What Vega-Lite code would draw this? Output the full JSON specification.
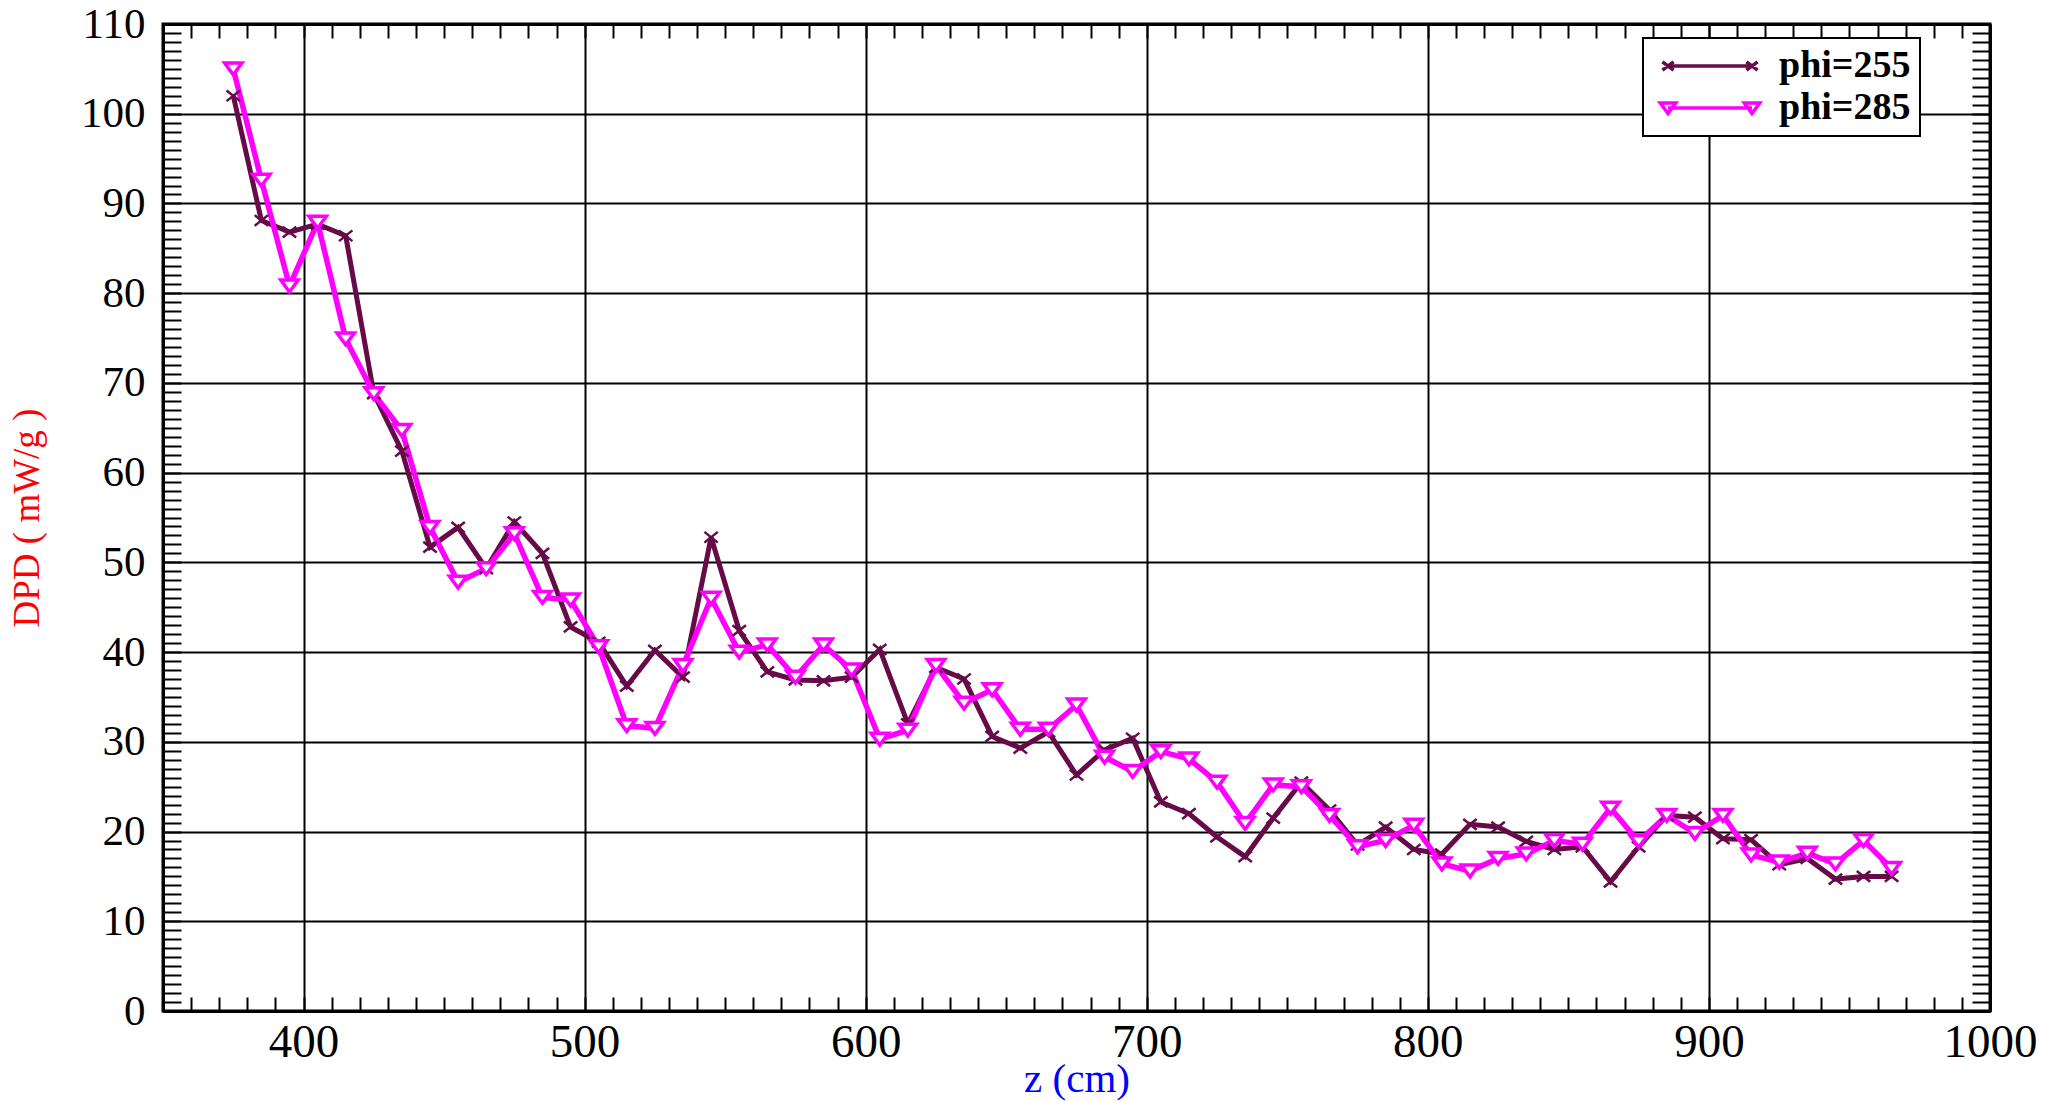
{
  "$schema": "https://vega.github.io/schema/vega-lite/v6.json",
  "width": 1827,
  "height": 987,
  "autosize": "none",
  "padding": {"left": 163, "top": 24, "right": 60, "bottom": 90},
  "background": "white",
  "config": {
    "view": {"stroke": "black", "strokeWidth": 3},
    "font": "Liberation Serif",
    "axis": {"domainColor": "black", "domainWidth": 3, "tickColor": "black", "tickWidth": 2, "labelColor": "black", "labelFont": "Liberation Serif", "titleFont": "Liberation Serif", "titleFontWeight": "normal", "labelOverlap": false, "labelFlush": false, "format": "d"}
  },
  "data": {
    "values": [
      {"z": 375, "dpd": 102.0, "series": "phi=255"},
      {"z": 385, "dpd": 88.1, "series": "phi=255"},
      {"z": 395, "dpd": 86.8, "series": "phi=255"},
      {"z": 405, "dpd": 87.7, "series": "phi=255"},
      {"z": 415, "dpd": 86.4, "series": "phi=255"},
      {"z": 425, "dpd": 68.8, "series": "phi=255"},
      {"z": 435, "dpd": 62.4, "series": "phi=255"},
      {"z": 445, "dpd": 51.7, "series": "phi=255"},
      {"z": 455, "dpd": 53.9, "series": "phi=255"},
      {"z": 465, "dpd": 49.3, "series": "phi=255"},
      {"z": 475, "dpd": 54.5, "series": "phi=255"},
      {"z": 485, "dpd": 51.0, "series": "phi=255"},
      {"z": 495, "dpd": 42.8, "series": "phi=255"},
      {"z": 505, "dpd": 41.1, "series": "phi=255"},
      {"z": 515, "dpd": 36.2, "series": "phi=255"},
      {"z": 525, "dpd": 40.2, "series": "phi=255"},
      {"z": 535, "dpd": 37.2, "series": "phi=255"},
      {"z": 545, "dpd": 52.8, "series": "phi=255"},
      {"z": 555, "dpd": 42.4, "series": "phi=255"},
      {"z": 565, "dpd": 37.8, "series": "phi=255"},
      {"z": 575, "dpd": 36.9, "series": "phi=255"},
      {"z": 585, "dpd": 36.8, "series": "phi=255"},
      {"z": 595, "dpd": 37.2, "series": "phi=255"},
      {"z": 605, "dpd": 40.3, "series": "phi=255"},
      {"z": 615, "dpd": 32.0, "series": "phi=255"},
      {"z": 625, "dpd": 38.3, "series": "phi=255"},
      {"z": 635, "dpd": 37.0, "series": "phi=255"},
      {"z": 645, "dpd": 30.6, "series": "phi=255"},
      {"z": 655, "dpd": 29.3, "series": "phi=255"},
      {"z": 665, "dpd": 31.1, "series": "phi=255"},
      {"z": 675, "dpd": 26.3, "series": "phi=255"},
      {"z": 685, "dpd": 29.1, "series": "phi=255"},
      {"z": 695, "dpd": 30.4, "series": "phi=255"},
      {"z": 705, "dpd": 23.3, "series": "phi=255"},
      {"z": 715, "dpd": 22.0, "series": "phi=255"},
      {"z": 725, "dpd": 19.4, "series": "phi=255"},
      {"z": 735, "dpd": 17.2, "series": "phi=255"},
      {"z": 745, "dpd": 21.5, "series": "phi=255"},
      {"z": 755, "dpd": 25.5, "series": "phi=255"},
      {"z": 765, "dpd": 22.4, "series": "phi=255"},
      {"z": 775, "dpd": 18.5, "series": "phi=255"},
      {"z": 785, "dpd": 20.5, "series": "phi=255"},
      {"z": 795, "dpd": 18.0, "series": "phi=255"},
      {"z": 805, "dpd": 17.5, "series": "phi=255"},
      {"z": 815, "dpd": 20.8, "series": "phi=255"},
      {"z": 825, "dpd": 20.5, "series": "phi=255"},
      {"z": 835, "dpd": 18.9, "series": "phi=255"},
      {"z": 845, "dpd": 18.0, "series": "phi=255"},
      {"z": 855, "dpd": 18.3, "series": "phi=255"},
      {"z": 865, "dpd": 14.4, "series": "phi=255"},
      {"z": 875, "dpd": 18.3, "series": "phi=255"},
      {"z": 885, "dpd": 21.8, "series": "phi=255"},
      {"z": 895, "dpd": 21.6, "series": "phi=255"},
      {"z": 905, "dpd": 19.2, "series": "phi=255"},
      {"z": 915, "dpd": 19.1, "series": "phi=255"},
      {"z": 925, "dpd": 16.3, "series": "phi=255"},
      {"z": 935, "dpd": 17.0, "series": "phi=255"},
      {"z": 945, "dpd": 14.7, "series": "phi=255"},
      {"z": 955, "dpd": 15.0, "series": "phi=255"},
      {"z": 965, "dpd": 15.0, "series": "phi=255"},
      {"z": 375, "dpd": 105.0, "series": "phi=285"},
      {"z": 385, "dpd": 92.6, "series": "phi=285"},
      {"z": 395, "dpd": 80.8, "series": "phi=285"},
      {"z": 405, "dpd": 87.9, "series": "phi=285"},
      {"z": 415, "dpd": 74.9, "series": "phi=285"},
      {"z": 425, "dpd": 68.8, "series": "phi=285"},
      {"z": 435, "dpd": 64.7, "series": "phi=285"},
      {"z": 445, "dpd": 53.9, "series": "phi=285"},
      {"z": 455, "dpd": 47.8, "series": "phi=285"},
      {"z": 465, "dpd": 49.3, "series": "phi=285"},
      {"z": 475, "dpd": 53.2, "series": "phi=285"},
      {"z": 485, "dpd": 46.1, "series": "phi=285"},
      {"z": 495, "dpd": 45.8, "series": "phi=285"},
      {"z": 505, "dpd": 40.6, "series": "phi=285"},
      {"z": 515, "dpd": 31.8, "series": "phi=285"},
      {"z": 525, "dpd": 31.5, "series": "phi=285"},
      {"z": 535, "dpd": 38.5, "series": "phi=285"},
      {"z": 545, "dpd": 46.0, "series": "phi=285"},
      {"z": 555, "dpd": 40.0, "series": "phi=285"},
      {"z": 565, "dpd": 40.8, "series": "phi=285"},
      {"z": 575, "dpd": 37.2, "series": "phi=285"},
      {"z": 585, "dpd": 40.8, "series": "phi=285"},
      {"z": 595, "dpd": 38.0, "series": "phi=285"},
      {"z": 605, "dpd": 30.3, "series": "phi=285"},
      {"z": 615, "dpd": 31.3, "series": "phi=285"},
      {"z": 625, "dpd": 38.5, "series": "phi=285"},
      {"z": 635, "dpd": 34.3, "series": "phi=285"},
      {"z": 645, "dpd": 35.8, "series": "phi=285"},
      {"z": 655, "dpd": 31.4, "series": "phi=285"},
      {"z": 665, "dpd": 31.4, "series": "phi=285"},
      {"z": 675, "dpd": 34.1, "series": "phi=285"},
      {"z": 685, "dpd": 28.3, "series": "phi=285"},
      {"z": 695, "dpd": 26.7, "series": "phi=285"},
      {"z": 705, "dpd": 28.9, "series": "phi=285"},
      {"z": 715, "dpd": 28.1, "series": "phi=285"},
      {"z": 725, "dpd": 25.5, "series": "phi=285"},
      {"z": 735, "dpd": 20.9, "series": "phi=285"},
      {"z": 745, "dpd": 25.2, "series": "phi=285"},
      {"z": 755, "dpd": 25.0, "series": "phi=285"},
      {"z": 765, "dpd": 21.8, "series": "phi=285"},
      {"z": 775, "dpd": 18.3, "series": "phi=285"},
      {"z": 785, "dpd": 19.0, "series": "phi=285"},
      {"z": 795, "dpd": 20.7, "series": "phi=285"},
      {"z": 805, "dpd": 16.4, "series": "phi=285"},
      {"z": 815, "dpd": 15.6, "series": "phi=285"},
      {"z": 825, "dpd": 17.0, "series": "phi=285"},
      {"z": 835, "dpd": 17.5, "series": "phi=285"},
      {"z": 845, "dpd": 19.0, "series": "phi=285"},
      {"z": 855, "dpd": 18.6, "series": "phi=285"},
      {"z": 865, "dpd": 22.6, "series": "phi=285"},
      {"z": 875, "dpd": 18.9, "series": "phi=285"},
      {"z": 885, "dpd": 21.8, "series": "phi=285"},
      {"z": 895, "dpd": 19.8, "series": "phi=285"},
      {"z": 905, "dpd": 21.8, "series": "phi=285"},
      {"z": 915, "dpd": 17.4, "series": "phi=285"},
      {"z": 925, "dpd": 16.6, "series": "phi=285"},
      {"z": 935, "dpd": 17.6, "series": "phi=285"},
      {"z": 945, "dpd": 16.4, "series": "phi=285"},
      {"z": 955, "dpd": 19.0, "series": "phi=285"},
      {"z": 965, "dpd": 15.9, "series": "phi=285"}
    ]
  },
  "layer": [
    {
      "mark": {"type": "line"},
      "encoding": {
        "x": {
          "field": "z", "type": "quantitative",
          "scale": {"domain": [350, 1000], "nice": false, "zero": false},
          "axis": {
            "orient": "bottom",
            "values": [350,360,370,380,390,400,410,420,430,440,450,460,470,480,490,500,510,520,530,540,550,560,570,580,590,600,610,620,630,640,650,660,670,680,690,700,710,720,730,740,750,760,770,780,790,800,810,820,830,840,850,860,870,880,890,900,910,920,930,940,950,960,970,980,990,1000],
            "tickSize": -14,
            "labelExpr": "datum.value % 100 === 0 ? datum.label : ''",
            "labelFontSize": 47,
            "labelPadding": 22,
            "grid": true, "gridColor": "black", "gridWidth": 2,
            "gridOpacity": {"condition": {"test": "datum.value % 100 === 0", "value": 1}, "value": 0},
            "title": "z (cm)", "titleColor": "blue", "titleFontSize": 41, "titlePadding": -6
          }
        },
        "y": {
          "field": "dpd", "type": "quantitative",
          "scale": {"domain": [0, 110], "nice": false, "zero": true},
          "axis": {
            "orient": "left",
            "values": [0,1,2,3,4,5,6,7,8,9,10,11,12,13,14,15,16,17,18,19,20,21,22,23,24,25,26,27,28,29,30,31,32,33,34,35,36,37,38,39,40,41,42,43,44,45,46,47,48,49,50,51,52,53,54,55,56,57,58,59,60,61,62,63,64,65,66,67,68,69,70,71,72,73,74,75,76,77,78,79,80,81,82,83,84,85,86,87,88,89,90,91,92,93,94,95,96,97,98,99,100,101,102,103,104,105,106,107,108,109,110],
            "tickSize": -18,
            "labelExpr": "datum.value % 10 === 0 ? datum.label : ''",
            "labelFontSize": 43,
            "labelPadding": 36,
            "grid": true, "gridColor": "black", "gridWidth": 2,
            "gridOpacity": {"condition": {"test": "datum.value % 10 === 0", "value": 1}, "value": 0},
            "title": "DPD ( mW/g )", "titleColor": "red", "titleFontSize": 37, "titlePadding": 34
          }
        },
        "color": {
          "field": "series", "type": "nominal",
          "scale": {"domain": ["phi=255", "phi=285"], "range": ["#660A48", "#FF00FF"]},
          "legend": {
            "title": null,
            "orient": "none", "legendX": 1480, "legendY": 14,
            "padding": 9,
            "strokeColor": "black", "fillColor": "white",
            "labelFont": "Liberation Serif", "labelFontWeight": "bold", "labelFontSize": 38, "labelColor": "black",
            "symbolSize": 784, "symbolStrokeWidth": 3.5, "symbolOffset": 39, "labelOffset": 50, "rowPadding": 4,
            "encode": {
              "legend": {"update": {"strokeWidth": {"value": 2}}},
              "symbols": {"update": {
                "shape": [
                  {"test": "datum.value === 'phi=255'", "value": "M-3,0H3M-3.4,-0.3L-2.6,0.3M-3.4,0.3L-2.6,-0.3M2.6,-0.3L3.4,0.3M2.6,0.3L3.4,-0.3"},
                  {"value": "M-3,0H3M-3.55,-0.35L-2.45,-0.35L-3,0.4ZM2.45,-0.35L3.55,-0.35L3,0.4Z"}
                ],
                "fill": {"value": "white"},
                "strokeWidth": {"value": 3.5}
              }}
            }
          }
        },
        "strokeWidth": {"condition": {"test": "datum.series === 'phi=255'", "value": 5}, "value": 5.5}
      }
    },
    {
      "mark": {"type": "point", "filled": false, "fill": "white", "opacity": 1},
      "encoding": {
        "x": {
          "field": "z", "type": "quantitative",
          "axis": {
            "orient": "top",
            "values": [350,360,370,380,390,400,410,420,430,440,450,460,470,480,490,500,510,520,530,540,550,560,570,580,590,600,610,620,630,640,650,660,670,680,690,700,710,720,730,740,750,760,770,780,790,800,810,820,830,840,850,860,870,880,890,900,910,920,930,940,950,960,970,980,990,1000],
            "tickSize": -14, "labels": false, "grid": false, "title": null
          }
        },
        "y": {
          "field": "dpd", "type": "quantitative",
          "axis": {
            "orient": "right",
            "values": [0,1,2,3,4,5,6,7,8,9,10,11,12,13,14,15,16,17,18,19,20,21,22,23,24,25,26,27,28,29,30,31,32,33,34,35,36,37,38,39,40,41,42,43,44,45,46,47,48,49,50,51,52,53,54,55,56,57,58,59,60,61,62,63,64,65,66,67,68,69,70,71,72,73,74,75,76,77,78,79,80,81,82,83,84,85,86,87,88,89,90,91,92,93,94,95,96,97,98,99,100,101,102,103,104,105,106,107,108,109,110],
            "tickSize": -18, "labels": false, "grid": false, "title": null
          }
        },
        "color": {"field": "series", "type": "nominal"},
        "shape": {
          "condition": {"test": "datum.series === 'phi=255'", "value": "M-1,-0.8L1,0.8M-1,0.8L1,-0.8"},
          "value": "M-1.1,-0.75L1.1,-0.75L0,0.75Z"
        },
        "size": {"condition": {"test": "datum.series === 'phi=255'", "value": 180}, "value": 250},
        "strokeWidth": {"condition": {"test": "datum.series === 'phi=255'", "value": 2.5}, "value": 3.5}
      }
    }
  ],
  "resolve": {"axis": {"x": "independent", "y": "independent"}}
}
